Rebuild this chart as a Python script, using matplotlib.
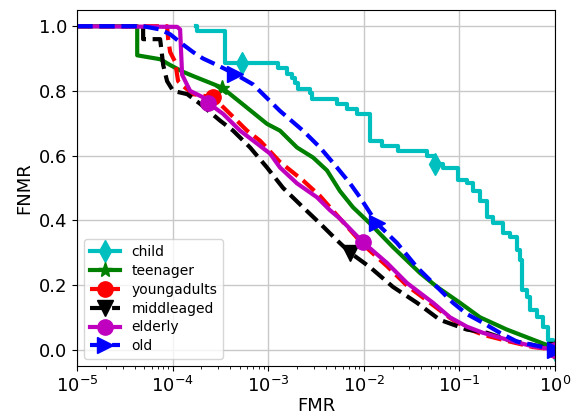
import matplotlib
matplotlib.use("Agg")
import matplotlib.pyplot as plt
import numpy as np

# log10(FMR) and FNMR values
child_x = [-3.755, -3.745, -3.452, -3.274, -2.897, -2.803, -2.751, -2.720, -2.688, -2.563,
           -2.542, -2.280, -2.176, -2.071, -1.935, -1.810, -1.642, -1.339, -1.255, -1.172,
           -1.015, -0.921, -0.858, -0.784, -0.711, -0.649, -0.544, -0.471, -0.397, -0.366,
           -0.345, -0.293, -0.261, -0.188, -0.126, -0.073, -0.021, 0.0]
child_y = [1.0, 0.985, 0.886, 0.886, 0.87, 0.852, 0.84, 0.825, 0.806, 0.794,
           0.775, 0.76, 0.745, 0.729, 0.646, 0.63, 0.615, 0.60, 0.575, 0.563,
           0.523, 0.514, 0.49, 0.46, 0.41, 0.39, 0.36, 0.348, 0.308, 0.277,
           0.185, 0.163, 0.123, 0.10, 0.071, 0.031, 0.01, 0.0]

teen_x = [-5.0, -4.372, -4.372, -4.132, -4.027, -3.900, -3.787, -3.483, -3.222, -3.013,
          -2.877, -2.699, -2.531, -2.385, -2.249, -2.113, -1.935, -1.695, -1.412, -1.234,
          -0.994, -0.784, -0.502, -0.230, 0.0]
teen_y = [1.0, 1.0, 0.91, 0.898, 0.88, 0.86, 0.846, 0.81, 0.748, 0.698,
          0.677, 0.625, 0.594, 0.554, 0.49, 0.44, 0.39, 0.317, 0.237, 0.194,
          0.145, 0.10, 0.062, 0.031, 0.005]

young_x = [-5.0, -4.059, -4.048, -4.027, -3.975, -3.944, -3.891, -3.787, -3.577, -3.431,
           -3.222, -3.086, -2.877, -2.636, -2.458, -2.249, -2.008, -1.757, -1.548, -1.276,
           -1.098, -0.921, -0.753, -0.502, -0.230, 0.0]
young_y = [1.0, 1.0, 0.96, 0.92, 0.89, 0.83, 0.815, 0.79, 0.78, 0.738,
           0.677, 0.646, 0.58, 0.523, 0.475, 0.405, 0.325, 0.258, 0.198, 0.138,
           0.098, 0.066, 0.046, 0.027, 0.008, 0.0]

middle_x = [-5.0, -4.310, -4.310, -4.132, -4.100, -4.059, -3.996, -3.849, -3.713, -3.504,
            -3.368, -3.190, -3.013, -2.845, -2.636, -2.458, -2.280, -2.144, -1.935, -1.695,
            -1.444, -1.203, -0.921, -0.711, -0.502, 0.0]
middle_y = [1.0, 1.0, 0.96, 0.96, 0.88, 0.83, 0.80, 0.79, 0.76, 0.708,
            0.677, 0.625, 0.563, 0.50, 0.44, 0.39, 0.338, 0.30, 0.255, 0.194,
            0.145, 0.092, 0.062, 0.052, 0.031, 0.0]

elder_x = [-5.0, -3.954, -3.923, -3.902, -3.818, -3.682, -3.630, -3.473, -3.295, -3.117,
           -2.981, -2.877, -2.699, -2.490, -2.354, -2.249, -2.008, -1.757, -1.548, -1.276,
           -1.098, -0.921, -0.753, -0.502, -0.230, 0.0]
elder_y = [1.0, 0.998, 0.99, 0.85, 0.80, 0.78, 0.763, 0.729, 0.677, 0.637,
           0.606, 0.563, 0.514, 0.471, 0.431, 0.405, 0.332, 0.268, 0.206, 0.145,
           0.10, 0.071, 0.052, 0.031, 0.01, 0.0]

old_x = [-5.0, -4.310, -4.132, -4.027, -3.900, -3.787, -3.682, -3.536, -3.347, -3.159,
         -2.877, -2.636, -2.458, -2.280, -2.144, -2.040, -1.862, -1.653, -1.444, -1.276,
         -1.067, -0.921, -0.753, -0.575, -0.397, -0.157, 0.0]
old_y = [1.0, 1.0, 0.99, 0.975, 0.945, 0.92, 0.90, 0.88, 0.852, 0.82,
         0.738, 0.677, 0.625, 0.563, 0.514, 0.471, 0.39, 0.33, 0.255, 0.206,
         0.145, 0.11, 0.083, 0.052, 0.025, 0.01, 0.0]

series = [
    ("child", child_x, child_y, "c", "-", "d", [3, 18, 37], "steps-post"),
    ("teenager", teen_x, teen_y, "g", "-", "*", [7, 24], "default"),
    ("youngadults", young_x, young_y, "r", "--", "o", [8, 25], "default"),
    ("middleaged", middle_x, middle_y, "k", "--", "v", [17, 25], "default"),
    ("elderly", elder_x, elder_y, "m", "-", "o", [6, 16, 25], "default"),
    ("old", old_x, old_y, "b", "--", ">", [8, 16, 26], "default"),
]

fig = plt.figure(figsize=(5.72, 4.19), dpi=100)
ax = fig.add_axes([0.135, 0.127, 0.835, 0.849])

for name, lx, ly, col, ls, mk, mev, ds in series:
    ax.plot(np.power(10.0, lx), ly, color=col, linestyle=ls, linewidth=3,
            marker=mk, markersize=11, markevery=mev, drawstyle=ds, label=name)

ax.set_xscale("log")
ax.set_xlim(1e-5, 1)
ax.set_ylim(-0.05, 1.05)
ax.set_yticks([0.0, 0.2, 0.4, 0.6, 0.8, 1.0])
ax.grid(True, color="#c8c8c8", linewidth=1)
ax.tick_params(labelsize=13)
ax.set_xlabel("FMR", fontsize=13, labelpad=1)
ax.set_ylabel("FNMR", fontsize=13)
ax.legend(loc="lower left", fontsize=10, handlelength=2.2, borderpad=0.4,
          labelspacing=0.35)

plt.savefig("out.png", dpi=100)
